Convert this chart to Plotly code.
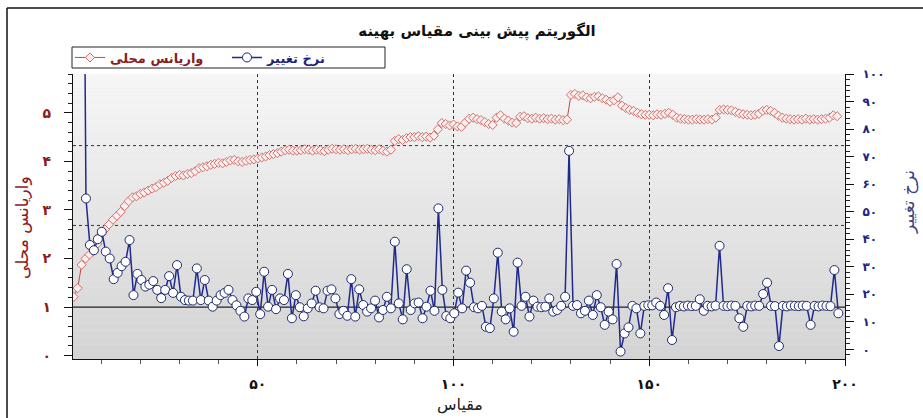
import numpy as np
import plotly.graph_objects as go

# ---------------- data ----------------
title_text = "الگوریتم پیش بینی مقیاس بهینه"
name_variance = "واریانس محلی"
name_rate = "نرخ تغییر"
x_title = "مقیاس"

x_variance = list(range(3, 199))
variance = [
    1.21, 1.39, 1.87, 2.00, 2.08, 2.15, 2.30, 2.50, 2.60, 2.70,
    2.80, 2.88, 2.96, 3.08, 3.18, 3.26, 3.28, 3.33, 3.36, 3.40,
    3.44, 3.47, 3.53, 3.56, 3.60, 3.66, 3.70, 3.72, 3.71, 3.74,
    3.76, 3.80, 3.86, 3.88, 3.90, 3.93, 3.95, 3.97, 3.96, 3.99,
    4.02, 4.03, 4.00, 3.99, 4.01, 4.03, 4.04, 4.06, 4.08, 4.10,
    4.13, 4.15, 4.17, 4.20, 4.23, 4.24, 4.22, 4.22, 4.23, 4.25,
    4.24, 4.22, 4.24, 4.23, 4.21, 4.24, 4.26, 4.25, 4.24, 4.25,
    4.23, 4.25, 4.26, 4.24, 4.25, 4.26, 4.24, 4.23, 4.25, 4.22,
    4.20, 4.24, 4.42, 4.46, 4.44, 4.48, 4.50, 4.50, 4.52, 4.50,
    4.51, 4.49, 4.53, 4.66, 4.79, 4.77, 4.74, 4.76, 4.72, 4.71,
    4.80, 4.88, 4.90, 4.87, 4.85, 4.81, 4.77, 4.75, 4.90, 4.95,
    4.88, 4.84, 4.80, 4.79, 4.92, 4.93, 4.89, 4.88, 4.90, 4.88,
    4.89, 4.87, 4.88, 4.86, 4.87, 4.85, 4.86, 5.37, 5.39, 5.35,
    5.36, 5.32, 5.30, 5.33, 5.34, 5.30, 5.27, 5.23, 5.26, 5.32,
    5.15, 5.10, 5.06, 5.04, 5.00, 4.97, 4.96, 4.96, 4.95, 4.97,
    4.96, 4.98, 5.00, 4.96, 4.90, 4.88, 4.87, 4.86, 4.86, 4.87,
    4.86, 4.86, 4.87, 4.86, 4.90, 5.06, 5.07, 5.06, 5.05, 5.02,
    4.99, 4.97, 4.96, 4.95, 4.96, 4.98, 5.04, 5.06, 5.04, 5.00,
    4.94, 4.90, 4.88, 4.87, 4.86, 4.87, 4.86, 4.88, 4.86, 4.87,
    4.86, 4.87, 4.88, 4.90, 4.95, 4.93,
]

rate = [
    260.0,
    54.8, 37.9, 36.0, 40.0, 42.7, 35.5, 33.0, 25.5, 27.8, 30.2,
    31.8, 39.7, 19.7, 27.4, 25.2, 22.8, 23.5, 24.8, 21.6, 18.6,
    21.6, 26.6, 20.5, 30.6, 19.1, 17.9, 17.7, 17.7, 29.4, 17.9,
    25.2, 17.7, 15.5, 17.7, 19.7, 20.5, 21.6, 17.9, 16.0, 14.0,
    11.9, 18.5, 17.9, 20.9, 12.8, 28.2, 15.5, 21.6, 14.6, 18.5,
    17.9, 27.4, 11.3, 19.7, 15.3, 12.0,
    14.9, 16.7, 21.3, 15.3, 14.9, 21.3, 21.8, 18.5, 12.8, 14.0,
    12.2, 25.5, 11.9, 21.8, 16.1, 13.7, 14.9, 17.7, 11.6, 14.3,
    19.1, 14.9, 39.1,
    16.7, 10.9, 29.1, 14.3, 16.7, 17.0, 11.3, 15.5, 21.3, 14.0, 51.2,
    21.6, 12.1, 11.3, 13.1, 20.6, 14.9, 28.6, 24.2, 15.3, 14.9,
    15.8, 8.2, 7.7, 18.5, 35.1, 13.7, 10.9, 14.9, 6.4, 31.5,
    15.8, 19.1, 11.9, 17.7, 15.5, 15.3, 15.5, 18.5, 13.7, 14.3,
    15.8, 19.1, 72.1,
    15.8, 16.1, 13.1, 14.0, 17.7, 12.5, 19.7, 15.3, 8.9, 13.7,
    10.9, 31.0, -0.8, 5.8, 8.0, 15.8, 14.9, 5.8, 15.8, 16.0,
    16.0, 17.0, 15.8, 12.5, 22.2, 3.4, 15.3, 15.8, 15.6, 15.9,
    15.7, 15.8, 18.2, 14.0, 15.8, 15.6, 15.9, 37.6, 15.8, 15.7,
    15.9, 15.8, 11.3, 8.2, 15.8, 15.6, 15.9, 15.8, 20.1, 24.2,
    15.8, 15.7, 1.2, 15.8, 15.6, 15.9, 15.8, 15.7, 15.9, 15.8,
    8.9, 15.8, 15.6, 15.9, 15.8, 15.7, 28.8, 13.1,
]
x_rate = np.linspace(5.1, 198.3, len(rate))

fa = str.maketrans("0123456789", "۰۱۲۳۴۵۶۷۸۹")
x_ticks = [50, 100, 150, 200]
left_ticks = [0, 1, 2, 3, 4, 5]
right_ticks = list(range(0, 101, 10))
ref_level = 1
rate_grid_levels = [45, 74]

# ---------------- style ----------------
FONT = "DejaVu Sans"
RED_TXT = "#8e1b1b"
BLUE_TXT = "#1c2480"
L, R, T, B = 73, 78, 74, 59
W, H = 923, 418
PW, PH = W - L - R, H - T - B

def px2paper_x(px):
    return (px - L) / PW

def px2paper_y(py):
    return (H - B - py) / PH

fig = go.Figure()

fig.add_trace(go.Scatter(
    x=x_variance, y=variance, mode="lines+markers",
    name="<b><span style='color:%s'>%s</span></b>" % (RED_TXT, name_variance),
    line=dict(color="#bb4a46", width=1),
    marker=dict(symbol="diamond", size=7, color="#fbeeee",
                line=dict(color="#d0706a", width=1)),
    yaxis="y", xaxis="x",
))
fig.add_trace(go.Scatter(
    x=x_rate, y=rate, mode="lines+markers",
    name="<b><span style='color:%s'>%s</span></b>" % (BLUE_TXT, name_rate),
    line=dict(color="#1f2a8c", width=1.5),
    marker=dict(symbol="circle", size=9, color="white",
                line=dict(color="#1f2a6c", width=1)),
    yaxis="y2", xaxis="x",
))

shapes = []
# gradient plot background
n_bands = 40
top_c, bot_c = np.array([247, 247, 247]), np.array([212, 212, 212])
for i in range(n_bands):
    f = (i + 0.5) / n_bands
    c = (top_c * (1 - f) + bot_c * f).astype(int)
    shapes.append(dict(type="rect", xref="paper", yref="paper",
                       x0=0, x1=1, y0=1 - (i + 1) / n_bands, y1=1 - i / n_bands,
                       fillcolor="rgb(%d,%d,%d)" % tuple(c), line=dict(width=0),
                       layer="below"))
for lv in rate_grid_levels:
    shapes.append(dict(type="line", xref="paper", yref="y2", x0=0, x1=1, y0=lv, y1=lv,
                       line=dict(color="#333", width=1, dash="dot"), layer="below"))
shapes.append(dict(type="line", xref="paper", yref="y", x0=0, x1=1, y0=ref_level, y1=ref_level,
                   line=dict(color="#222", width=1.2), layer="below"))
# outer frame (left & top visible)
shapes.append(dict(type="line", xref="paper", yref="paper",
                   x0=px2paper_x(7), x1=px2paper_x(7), y0=px2paper_y(430), y1=px2paper_y(8),
                   line=dict(color="#111", width=1.5)))
shapes.append(dict(type="line", xref="paper", yref="paper",
                   x0=px2paper_x(7), x1=px2paper_x(940), y0=px2paper_y(8), y1=px2paper_y(8),
                   line=dict(color="#111", width=1.5)))
# legend frame
shapes.append(dict(type="rect", xref="paper", yref="paper",
                   x0=px2paper_x(72), x1=px2paper_x(385), y0=px2paper_y(68), y1=px2paper_y(47),
                   fillcolor="white", line=dict(color="#222", width=1), layer="above"))

xr = [2.8, 200]
yr = [-0.07, 5.8]
y2r = [-3.5, 100]

fig.update_layout(
    width=W, height=H,
    margin=dict(l=L, r=R, t=T, b=B),
    paper_bgcolor="white", plot_bgcolor="#e6e6e6",
    font=dict(family=FONT, color="#111"),
    showlegend=True,
    legend=dict(orientation="h", x=px2paper_x(70), xanchor="left",
                y=px2paper_y(57.5), yanchor="middle",
                bgcolor="rgba(0,0,0,0)", borderwidth=0,
                font=dict(size=13, family=FONT), entrywidth=112,
                tracegroupgap=0),
    title=dict(text="<b>%s</b>" % title_text, x=477 / W, xref="container",
               y=1 - 31 / H, yref="container", xanchor="center", yanchor="middle",
               font=dict(size=15, family=FONT, color="#111")),
    shapes=shapes,
    xaxis=dict(range=xr, showline=True, linecolor="#111", linewidth=1.2,
               tickvals=x_ticks, ticktext=[str(v).translate(fa) for v in x_ticks],
               ticks="outside", ticklen=6, tickcolor="#111", ticklabelstandoff=6,
               tickfont=dict(size=14, family=FONT, color="#111", weight="bold"),
               minor=dict(dtick=10, ticks="outside", ticklen=4, tickcolor="#555"),
               showgrid=True, gridcolor="#333", griddash="dot", gridwidth=1,
               zeroline=False),
    xaxis2=dict(range=xr, overlaying="x", side="top", showline=True, linecolor="#111",
                linewidth=1.2, dtick=10, ticks="inside", ticklen=5, tickcolor="#333",
                showticklabels=False, showgrid=False, zeroline=False),
    yaxis=dict(range=yr, showline=True, linecolor="#111", linewidth=1.2,
               tickvals=left_ticks, ticktext=[str(v).translate(fa) for v in left_ticks],
               ticks="outside", ticklen=8, tickcolor="#111", ticklabelstandoff=10,
               tickfont=dict(size=14, family=FONT, color=RED_TXT, weight="bold"),
               minor=dict(dtick=0.2, ticks="outside", ticklen=4, tickcolor="#222"),
               showgrid=False, zeroline=False),
    yaxis3=dict(range=yr, overlaying="y", side="left", showline=False,
                tickvals=left_ticks, ticks="inside", ticklen=6, tickcolor="#111",
                showticklabels=False, showgrid=False, zeroline=False,
                minor=dict(dtick=0.2, ticks="inside", ticklen=3, tickcolor="#222")),
    yaxis2=dict(range=y2r, overlaying="y", side="right", showline=True, linecolor="#111",
                linewidth=1.2,
                tickvals=right_ticks, ticktext=[str(v).translate(fa) for v in right_ticks],
                ticks="outside", ticklen=8, tickcolor="#111", ticklabelstandoff=6,
                tickfont=dict(size=12, family=FONT, color=BLUE_TXT, weight="bold"),
                minor=dict(dtick=2, ticks="outside", ticklen=4, tickcolor="#222"),
                showgrid=False, zeroline=False),
    yaxis4=dict(range=y2r, overlaying="y", side="right", showline=False,
                tickvals=right_ticks, ticks="inside", ticklen=6, tickcolor="#111",
                showticklabels=False, showgrid=False, zeroline=False,
                minor=dict(dtick=2, ticks="inside", ticklen=3, tickcolor="#222")),
    annotations=[
        dict(text=name_variance, xref="paper", yref="paper", x=px2paper_x(22), y=px2paper_y(228),
             textangle=-90, showarrow=False, xanchor="center", yanchor="middle",
             font=dict(size=17, family=FONT, color=RED_TXT)),
        dict(text=name_rate, xref="paper", yref="paper", x=px2paper_x(908), y=px2paper_y(202),
             textangle=-90, showarrow=False, xanchor="center", yanchor="middle",
             font=dict(size=17, family=FONT, color="#3a4682")),
        dict(text=x_title, xref="paper", yref="paper", x=px2paper_x(460), y=px2paper_y(404),
             showarrow=False, xanchor="center", yanchor="middle",
             font=dict(size=16, family=FONT, color="#222")),
    ],
)

fig.write_html("out.html", post_script="document.body.style.margin='0px';",
               config={"displayModeBar": False})
